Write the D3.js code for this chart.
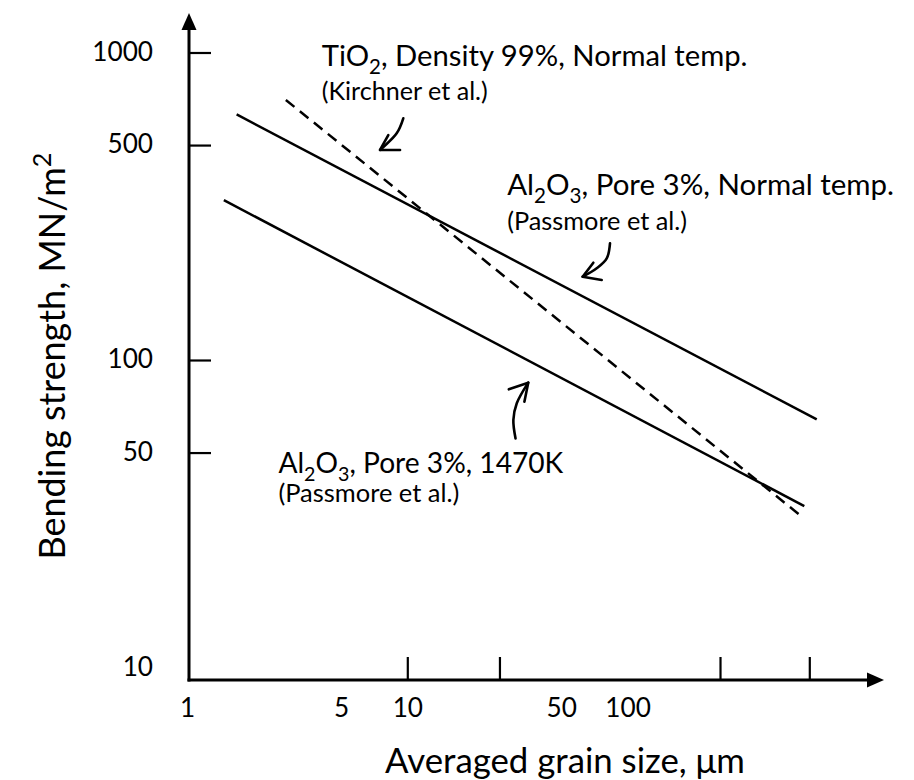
<!DOCTYPE html>
<html><head><meta charset="utf-8">
<script src="https://cdn.jsdelivr.net/npm/d3@7"></script>
<style>body{margin:0;background:#fff}svg{display:block}</style>
</head><body><svg id="chart" width="914" height="780"></svg>
<script>
// ---------- data ----------
const xTickMarks  = [10, 26.2, 262.7, 668];          // small tick marks on the grain-size axis
const xTickLabels = [1, 5, 10, 50, 100];              // labels on the grain-size axis
const yTickMarks  = [1000, 500, 100, 50];             // tick marks on the strength axis
const yTickLabels = [1000, 500, 100, 50, 10];         // labels on the strength axis

const seriesNames = ["Al2O3 Pore 3% Normal temp.", "Al2O3 Pore 3% 1470K", "TiO2 Density 99% Normal temp."];
const grainAlNormal    = [1.68, 722];
const strengthAlNormal = [629, 64.1];
const grainAl1470      = [1.47, 634];
const strengthAl1470   = [331, 33.5];
const grainTiO2        = [2.81, 623];
const strengthTiO2     = [701, 30.8];

// annotation texts (anchored in data units: grain size, strength)
const labelTexts = [
  "TiO_{2}, Density 99%, Normal temp.", "(Kirchner et al.)",
  "Al_{2}O_{3}, Pore 3%, Normal temp.", "(Passmore et al.)",
  "Al_{2}O_{3}, Pore 3%, 1470K", "(Passmore et al.)"
];
const labelGrain    = [4.09, 4.09, 28.4, 28.4, 2.60, 2.60];
const labelStrength = [904, 700, 344, 265, 42.9, 34.6];
const labelWidths   = [426, 166, 387, 180, 285, 181];
const labelMajor    = [true, false, true, false, true, false];

// hand-drawn arrows: curve points (tail -> tip) and head arm ends, in data units
const arrowCurveGrain    = [[9.59, 8.95, 7.52], [83.2, 80.4, 72.4, 62.5], [31.0, 30.3, 31.4, 35.4]];
const arrowCurveStrength = [[611, 546, 482],    [239.6, 214, 198.7, 186.6], [55.6, 63.8, 72.3, 84.4]];
const arrowArmGrain      = [[8.2, 9.27], [69.9, 76.3], [28.9, 34.0]];
const arrowArmStrength   = [[539, 482], [207.2, 182], [80.3, 73.2]];

const xTitle = "Averaged grain size, μm";
const yTitle = "Bending strength, MN/m^{2}";

// ---------- setup ----------
const FONT = "Lato, 'Open Sans', sans-serif";
const svg = d3.select("#chart");
const x = d3.scaleLog().domain([1, 1000]).range([187, 187 + 3 * 220.3]);
const y = d3.scaleLog().domain([10, 1000]).range([667.5, 52.5]);
const axisX = 189, axisY = 680;

function addRich(sel, str) {
  const re = /([_^])\{([^}]*)\}/g;
  let last = 0, m, pendingDy = null;
  while ((m = re.exec(str)) !== null) {
    if (m.index > last) {
      const t = sel.append("tspan").text(str.slice(last, m.index));
      if (pendingDy) t.attr("dy", pendingDy);
      pendingDy = null;
    }
    const shift = m[1] === "_" ? 0.28 : -0.38;
    sel.append("tspan").attr("font-size", "70%").attr("dy", (shift / 0.7) + "em").text(m[2]);
    pendingDy = (-shift) + "em";
    last = re.lastIndex;
  }
  if (last < str.length) {
    const t = sel.append("tspan").text(str.slice(last));
    if (pendingDy) t.attr("dy", pendingDy);
  }
}
function fit(sel, target) {
  const s = parseFloat(sel.attr("font-size"));
  const w = sel.node().getComputedTextLength();
  sel.attr("font-size", s * target / w);
  return s * target / w;
}
function measureSize(str, target) {
  const t = svg.append("text").attr("font-family", FONT).attr("font-size", 30).text(str);
  const s = fit(t, target); t.remove(); return s;
}

// ---------- axes ----------
const tickFont = measureSize("1000", 60.7);

// y tick marks (pointing into the plot)
svg.append("g").attr("transform", `translate(${axisX},0)`)
  .call(d3.axisLeft(y).tickValues(yTickMarks).tickSizeInner(-22).tickSizeOuter(0).tickFormat(""))
  .call(g => g.select(".domain").remove())
  .call(g => g.selectAll("line").attr("stroke", "#000").attr("stroke-width", 2.2));
// y tick labels
svg.append("g").attr("transform", `translate(${axisX},0)`)
  .call(d3.axisLeft(y).tickValues(yTickLabels).tickSize(0).tickPadding(36).tickFormat(d3.format("d")))
  .call(g => g.select(".domain").remove())
  .call(g => g.selectAll("text").attr("font-family", FONT).attr("font-size", tickFont).attr("fill", "#000").attr("dy", "0.3em"));

// x tick marks (pointing up)
svg.append("g").attr("transform", `translate(0,${axisY})`)
  .call(d3.axisBottom(x).tickValues(xTickMarks).tickSizeInner(-23).tickSizeOuter(0).tickFormat(""))
  .call(g => g.select(".domain").remove())
  .call(g => g.selectAll("line").attr("stroke", "#000").attr("stroke-width", 2.2));
// x tick labels
svg.append("g").attr("transform", `translate(0,${axisY})`)
  .call(d3.axisBottom(x).tickValues(xTickLabels).tickSize(0).tickFormat(d3.format("d")))
  .call(g => g.select(".domain").remove())
  .call(g => g.selectAll("text").attr("font-family", FONT).attr("font-size", tickFont).attr("fill", "#000")
    .attr("y", 36.5).attr("dy", null));

// axis lines with arrowheads
svg.append("line").attr("x1", axisX).attr("y1", axisY + 1.5).attr("x2", axisX).attr("y2", 24)
  .attr("stroke", "#000").attr("stroke-width", 3);
svg.append("path").attr("d", d3.line()([[axisX, 13], [axisX - 7.5, 30], [axisX + 7.5, 30]]) + "Z").attr("fill", "#000");
svg.append("line").attr("x1", axisX - 1.5).attr("y1", axisY).attr("x2", 872).attr("y2", axisY)
  .attr("stroke", "#000").attr("stroke-width", 3);
svg.append("path").attr("d", d3.line()([[884, axisY], [867, axisY - 7.5], [867, axisY + 7.5]]) + "Z").attr("fill", "#000");

// axis titles
const xt = svg.append("text").attr("font-family", FONT).attr("font-size", 30).attr("fill", "#000")
  .attr("text-anchor", "middle").attr("x", 565).attr("y", 773).text(xTitle);
fit(xt, 360);
const yt = svg.append("text").attr("font-family", FONT).attr("font-size", 30).attr("fill", "#000")
  .attr("text-anchor", "middle").attr("transform", "translate(65,356) rotate(-90)");
addRich(yt, yTitle);
fit(yt, 407);

// ---------- series ----------
const line = d3.line().x(d => x(d[0])).y(d => y(d[1]));
const series = [
  {g: grainAlNormal, s: strengthAlNormal, dash: null},
  {g: grainAl1470,   s: strengthAl1470,   dash: null},
  {g: grainTiO2,     s: strengthTiO2,     dash: "11,7"}
];
series.forEach((sr, i) => {
  svg.append("path").datum(d3.zip(sr.g, sr.s)).attr("d", line)
    .attr("fill", "none").attr("stroke", "#000").attr("stroke-width", 2.5)
    .attr("stroke-dasharray", sr.dash).attr("class", "series-" + i);
});

// ---------- annotations ----------
labelTexts.forEach((txt, i) => {
  const t = svg.append("text").attr("font-family", FONT).attr("font-size", labelMajor[i] ? 30 : 20)
    .attr("fill", "#000").attr("x", x(labelGrain[i])).attr("y", y(labelStrength[i]));
  addRich(t, txt);
  fit(t, labelWidths[i]);
});

const curve = d3.line().x(d => x(d[0])).y(d => y(d[1])).curve(d3.curveCatmullRom);
arrowCurveGrain.forEach((gs, i) => {
  const pts = d3.zip(gs, arrowCurveStrength[i]);
  svg.append("path").datum(pts).attr("d", curve)
    .attr("fill", "none").attr("stroke", "#000").attr("stroke-width", 2.6).attr("stroke-linecap", "round");
  const tip = pts[pts.length - 1];
  const head = [[arrowArmGrain[i][0], arrowArmStrength[i][0]], tip, [arrowArmGrain[i][1], arrowArmStrength[i][1]]];
  svg.append("path").datum(head).attr("d", line)
    .attr("fill", "none").attr("stroke", "#000").attr("stroke-width", 2.6)
    .attr("stroke-linecap", "round").attr("stroke-linejoin", "round");
});
</script></body></html>
